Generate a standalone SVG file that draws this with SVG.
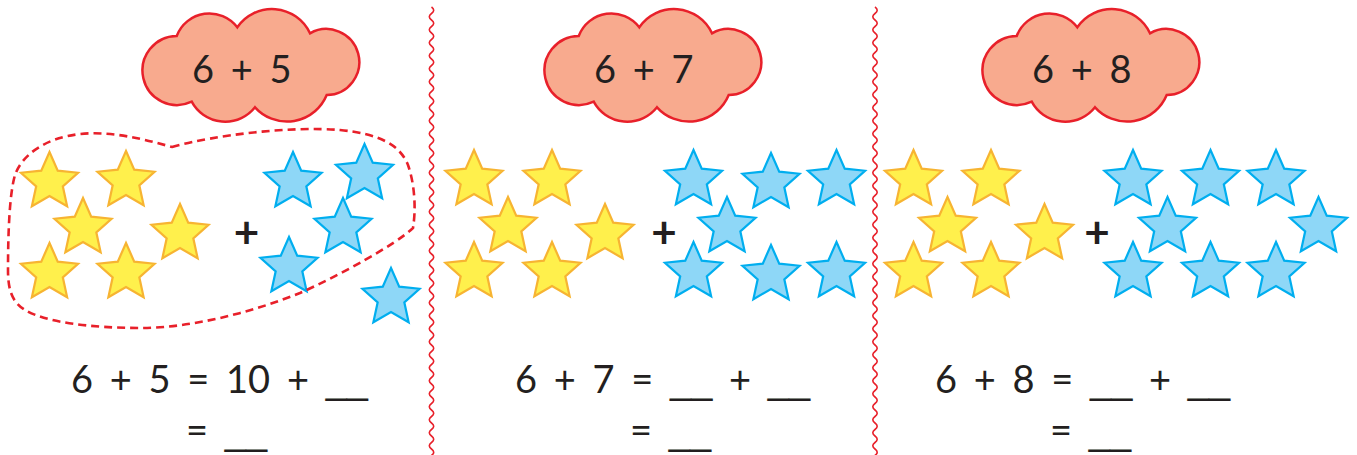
<svg xmlns="http://www.w3.org/2000/svg" xmlns:xlink="http://www.w3.org/1999/xlink" width="1357" height="455" viewBox="0 0 1357 455">
<style>
.bg{fill:#ffffff}
.txt{font-family:Lato,"Open Sans","Liberation Sans",sans-serif;font-size:38px;fill:#231f20;word-spacing:7px}
.u{font-family:"Liberation Sans",Arial,sans-serif}
.plus{font-family:Lato,"Liberation Sans",sans-serif;font-size:44px;font-weight:700;fill:#231f20;text-anchor:middle}
.cloud{fill:#f8aa8e;stroke:#e8202a;stroke-width:2.5}
.ys{fill:#fff04c;stroke:#f7b432;stroke-width:2.2}
.bs{fill:#8ed7f7;stroke:#00aeef;stroke-width:2.2}
.wave{fill:none;stroke:#e8202a;stroke-width:1.6}
.loop{fill:none;stroke:#e8202a;stroke-width:2.6;stroke-dasharray:8 5}
</style>
<defs>
<path id="star" d="M0,-30 L8.229,-11.326 L28.532,-9.271 L13.315,4.326 L17.634,24.271 L0,14 L-17.634,24.271 L-13.315,4.326 L-28.532,-9.271 L-8.229,-11.326 Z"/>
<path id="cloudshape" d="M176.7,36 A35,35 0 0 1 237.3,27.3 A42,42 0 0 1 310,33.3 A33,33 0 1 1 326.7,95 A43,43 0 0 1 255,107.3 A38,38 0 0 1 191.7,101.7 A34.5,34.5 0 1 1 176.7,36 Z"/>
</defs>
<rect class="bg" x="0" y="0" width="1357" height="455"/>

<g id="dividers">
<path class="wave" d="M431.5,7 q4.4,3.25 0,6.5 t0,6.5 t0,6.5 t0,6.5 t0,6.5 t0,6.5 t0,6.5 t0,6.5 t0,6.5 t0,6.5 t0,6.5 t0,6.5 t0,6.5 t0,6.5 t0,6.5 t0,6.5 t0,6.5 t0,6.5 t0,6.5 t0,6.5 t0,6.5 t0,6.5 t0,6.5 t0,6.5 t0,6.5 t0,6.5 t0,6.5 t0,6.5 t0,6.5 t0,6.5 t0,6.5 t0,6.5 t0,6.5 t0,6.5 t0,6.5 t0,6.5 t0,6.5 t0,6.5 t0,6.5 t0,6.5 t0,6.5 t0,6.5 t0,6.5 t0,6.5 t0,6.5 t0,6.5 t0,6.5 t0,6.5 t0,6.5 t0,6.5 t0,6.5 t0,6.5 t0,6.5 t0,6.5 t0,6.5 t0,6.5 t0,6.5 t0,6.5 t0,6.5 t0,6.5 t0,6.5 t0,6.5 t0,6.5 t0,6.5 t0,6.5 t0,6.5 t0,6.5 t0,6.5 t0,6.5 t0,6.5"/>
<path class="wave" d="M875,7 q4.4,3.25 0,6.5 t0,6.5 t0,6.5 t0,6.5 t0,6.5 t0,6.5 t0,6.5 t0,6.5 t0,6.5 t0,6.5 t0,6.5 t0,6.5 t0,6.5 t0,6.5 t0,6.5 t0,6.5 t0,6.5 t0,6.5 t0,6.5 t0,6.5 t0,6.5 t0,6.5 t0,6.5 t0,6.5 t0,6.5 t0,6.5 t0,6.5 t0,6.5 t0,6.5 t0,6.5 t0,6.5 t0,6.5 t0,6.5 t0,6.5 t0,6.5 t0,6.5 t0,6.5 t0,6.5 t0,6.5 t0,6.5 t0,6.5 t0,6.5 t0,6.5 t0,6.5 t0,6.5 t0,6.5 t0,6.5 t0,6.5 t0,6.5 t0,6.5 t0,6.5 t0,6.5 t0,6.5 t0,6.5 t0,6.5 t0,6.5 t0,6.5 t0,6.5 t0,6.5 t0,6.5 t0,6.5 t0,6.5 t0,6.5 t0,6.5 t0,6.5 t0,6.5 t0,6.5 t0,6.5 t0,6.5 t0,6.5"/>
</g>

<g id="cloud1">
<use xlink:href="#cloudshape" href="#cloudshape" class="cloud"/>
<text class="txt" x="192" y="83">6 + 5</text>
</g>
<g id="cloud2">
<use xlink:href="#cloudshape" href="#cloudshape" class="cloud" transform="translate(402,0)"/>
<text class="txt" x="594" y="83">6 + 7</text>
</g>
<g id="cloud3">
<use xlink:href="#cloudshape" href="#cloudshape" class="cloud" transform="translate(840,0)"/>
<text class="txt" x="1032" y="83">6 + 8</text>
</g>

<g id="stars1">
<use href="#star" class="ys" x="49.5" y="182"/>
<use href="#star" class="ys" x="126" y="181"/>
<use href="#star" class="ys" x="83" y="228"/>
<use href="#star" class="ys" x="180" y="234"/>
<use href="#star" class="ys" x="49.5" y="273"/>
<use href="#star" class="ys" x="126" y="273"/>
<text class="plus" x="246.5" y="248">+</text>
<use href="#star" class="bs" x="293" y="182"/>
<use href="#star" class="bs" x="364.5" y="174"/>
<use href="#star" class="bs" x="343" y="228"/>
<use href="#star" class="bs" x="289" y="267"/>
<use href="#star" class="bs" x="391" y="298"/>
</g>

<g id="group-loop">
<path class="loop" d="M172,147 C215,135 290,126 340,130 C380,134 400,145 408,165 C415,185 416,210 413,228 C395,245 340,275 300,293 C250,313 190,328 140,328 C90,328 45,322 25,310 C12,302 8,290 8,270 C8,240 9,195 15,175 C22,155 45,138 80,134 C110,131 140,138 172,147 Z"/>
</g>

<g id="stars2">
<use href="#star" class="ys" x="474" y="180"/>
<use href="#star" class="ys" x="552" y="180"/>
<use href="#star" class="ys" x="508" y="227"/>
<use href="#star" class="ys" x="605" y="234"/>
<use href="#star" class="ys" x="474" y="272"/>
<use href="#star" class="ys" x="552" y="272"/>
<text class="plus" x="664" y="248">+</text>
<use href="#star" class="bs" x="693.5" y="180"/>
<use href="#star" class="bs" x="771" y="183"/>
<use href="#star" class="bs" x="836.5" y="180"/>
<use href="#star" class="bs" x="727" y="227"/>
<use href="#star" class="bs" x="693.5" y="272"/>
<use href="#star" class="bs" x="771" y="275"/>
<use href="#star" class="bs" x="836.5" y="272"/>
</g>

<g id="stars3">
<use href="#star" class="ys" x="913.5" y="180"/>
<use href="#star" class="ys" x="991" y="180"/>
<use href="#star" class="ys" x="947.5" y="227"/>
<use href="#star" class="ys" x="1044.5" y="234"/>
<use href="#star" class="ys" x="913.5" y="272"/>
<use href="#star" class="ys" x="991" y="272"/>
<text class="plus" x="1097" y="248">+</text>
<use href="#star" class="bs" x="1133" y="180"/>
<use href="#star" class="bs" x="1210.5" y="180"/>
<use href="#star" class="bs" x="1276" y="180"/>
<use href="#star" class="bs" x="1167.5" y="227"/>
<use href="#star" class="bs" x="1318.5" y="227"/>
<use href="#star" class="bs" x="1133" y="272"/>
<use href="#star" class="bs" x="1210.5" y="272"/>
<use href="#star" class="bs" x="1276" y="272"/>
</g>

<g id="equation1">
<text class="txt" x="71" y="393">6 + 5 = 10 + <tspan class="u">__</tspan></text>
<text class="txt" x="186" y="444">= <tspan class="u">__</tspan></text>
</g>
<g id="equation2">
<text class="txt" x="515" y="393">6 + 7 = <tspan class="u">__</tspan> + <tspan class="u">__</tspan></text>
<text class="txt" x="630" y="444">= <tspan class="u">__</tspan></text>
</g>
<g id="equation3">
<text class="txt" x="935" y="393">6 + 8 = <tspan class="u">__</tspan> + <tspan class="u">__</tspan></text>
<text class="txt" x="1050" y="444">= <tspan class="u">__</tspan></text>
</g>
</svg>
